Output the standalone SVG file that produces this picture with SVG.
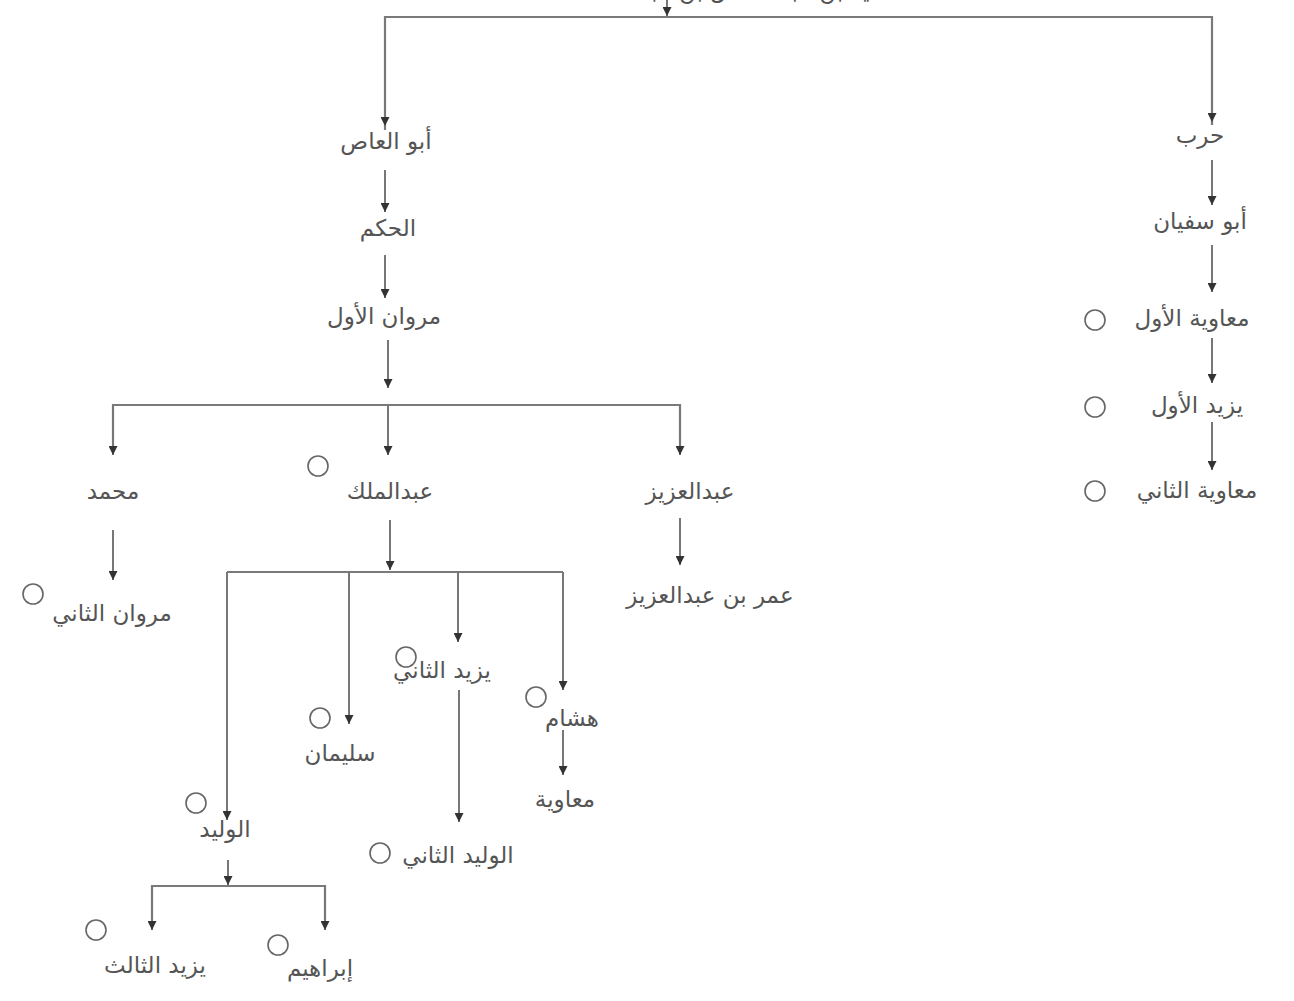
<svg xmlns="http://www.w3.org/2000/svg" width="1294" height="1001" viewBox="0 0 1294 1001">
<defs>
<marker id="ah" viewBox="0 0 10 10" refX="10" refY="5" markerWidth="9" markerHeight="9" markerUnits="userSpaceOnUse" orient="auto">
<path d="M0,0 L10,5 L0,10 z" fill="#333"/>
</marker>
</defs>
<style>
.t{font-family:"DejaVu Sans",sans-serif;font-size:23px;fill:#555;text-anchor:middle}
.c{fill:none;stroke:#666;stroke-width:1.6}
.l{fill:none;stroke:#7a7a7a;stroke-width:2.2}
.a{fill:none;stroke:#777;stroke-width:2;marker-end:url(#ah)}
</style>
<rect width="1294" height="1001" fill="#fff"/>
<g id="connectors">
<path class="a" d="M667,0 V16"/>
<path class="l" d="M385,130 V17 H1212 V125"/>
<path class="a" d="M385,40 V126"/>
<path class="a" d="M1212,40 V122"/>
<path class="a" d="M385,170 V212"/>
<path class="a" d="M385,255 V298"/>
<path class="a" d="M388,340 V388"/>
<path class="l" d="M113,452 V405 H680 V452"/>
<path class="a" d="M113,405 V455"/>
<path class="a" d="M388,405 V455"/>
<path class="a" d="M680,405 V455"/>
<path class="a" d="M113,530 V580"/>
<path class="a" d="M680,518 V565"/>
<path class="a" d="M390,520 V570"/>
<path class="l" d="M227,572 H563"/>
<path class="a" d="M227,572 V820"/>
<path class="a" d="M349,572 V724"/>
<path class="a" d="M458,572 V642"/>
<path class="a" d="M563,572 V690"/>
<path class="a" d="M459,690 V822"/>
<path class="a" d="M563,730 V775"/>
<path class="a" d="M228,860 V885"/>
<path class="l" d="M152,920 V886 H325 V920"/>
<path class="a" d="M152,886 V930"/>
<path class="a" d="M325,886 V930"/>
<path class="a" d="M1212,160 V205"/>
<path class="a" d="M1212,245 V292"/>
<path class="a" d="M1212,338 V383"/>
<path class="a" d="M1212,422 V470"/>
</g>
<g id="n-top"><text class="t" x="735" y="-2">أمية بن عبد شمس بن عبد مناف</text></g>
<g id="n-abualas"><text class="t" x="386" y="149">أبو العاص</text></g>
<g id="n-hakam"><text class="t" x="388" y="236">الحكم</text></g>
<g id="n-marwan1"><text class="t" x="384" y="324">مروان الأول</text></g>
<g id="n-muhammad"><text class="t" x="113" y="499">محمد</text></g>
<g id="n-abdulmalik"><circle class="c" cx="318" cy="466" r="10"/><text class="t" x="390" y="499">عبدالملك</text></g>
<g id="n-abdulaziz"><text class="t" x="690" y="499">عبدالعزيز</text></g>
<g id="n-marwan2"><circle class="c" cx="33" cy="594" r="10"/><text class="t" x="112" y="621">مروان الثاني</text></g>
<g id="n-umar"><text class="t" x="710" y="603">عمر بن عبدالعزيز</text></g>
<g id="n-yazid2"><circle class="c" cx="406" cy="657" r="10"/><text class="t" x="442" y="678">يزيد الثاني</text></g>
<g id="n-hisham"><circle class="c" cx="536" cy="697" r="10"/><text class="t" x="572" y="726">هشام</text></g>
<g id="n-sulayman"><circle class="c" cx="320" cy="718" r="10"/><text class="t" x="340" y="761">سليمان</text></g>
<g id="n-muawiya"><text class="t" x="565" y="807">معاوية</text></g>
<g id="n-walid"><circle class="c" cx="196" cy="803" r="10"/><text class="t" x="225" y="837">الوليد</text></g>
<g id="n-walid2"><circle class="c" cx="380" cy="853" r="10"/><text class="t" x="458" y="863">الوليد الثاني</text></g>
<g id="n-yazid3"><circle class="c" cx="96" cy="930" r="10"/><text class="t" x="155" y="973">يزيد الثالث</text></g>
<g id="n-ibrahim"><circle class="c" cx="278" cy="945" r="10"/><text class="t" x="320" y="976">إبراهيم</text></g>
<g id="n-harb"><text class="t" x="1200" y="143">حرب</text></g>
<g id="n-abusufyan"><text class="t" x="1200" y="229">أبو سفيان</text></g>
<g id="n-muawiya1"><circle class="c" cx="1095" cy="320" r="10"/><text class="t" x="1192" y="326">معاوية الأول</text></g>
<g id="n-yazid1"><circle class="c" cx="1095" cy="407" r="10"/><text class="t" x="1197" y="413">يزيد الأول</text></g>
<g id="n-muawiya2"><circle class="c" cx="1095" cy="491" r="10"/><text class="t" x="1197" y="498">معاوية الثاني</text></g>
</svg>
